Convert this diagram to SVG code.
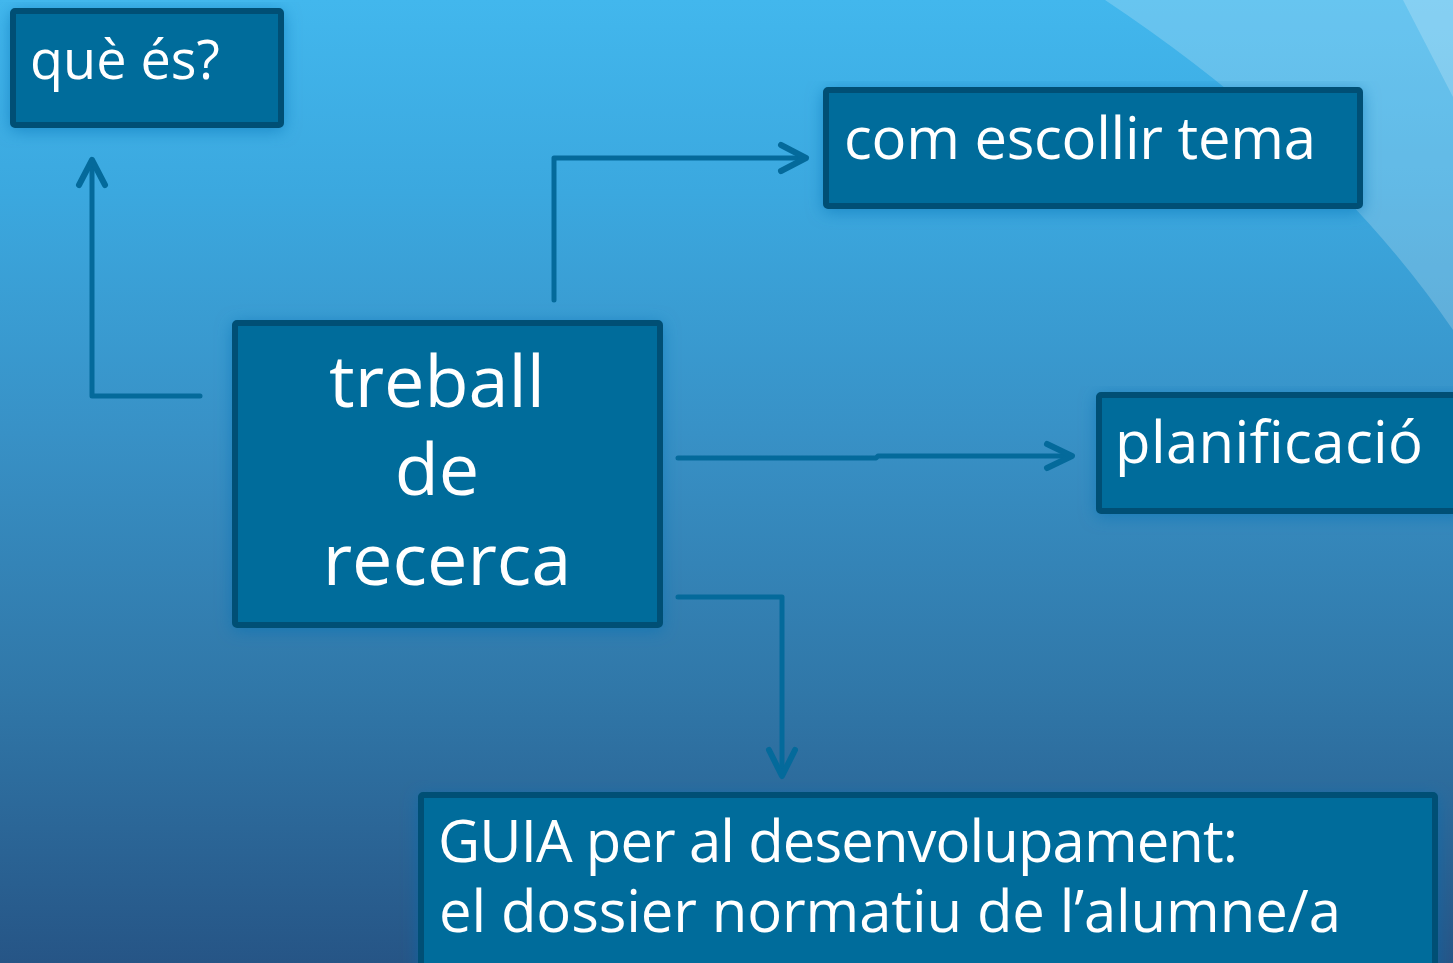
<svg xmlns="http://www.w3.org/2000/svg" width="1453" height="963" viewBox="0 0 1453 963">
  <defs>
    <linearGradient id="bg" x1="0" y1="0" x2="0" y2="1">
      <stop offset="0" stop-color="#42b7ed"/>
      <stop offset="0.2" stop-color="#3ba8df"/>
      <stop offset="0.45" stop-color="#3891c6"/>
      <stop offset="0.72" stop-color="#3077a8"/>
      <stop offset="1" stop-color="#265586"/>
    </linearGradient>
    <filter id="glow" x="-10%" y="-10%" width="120%" height="130%">
      <feGaussianBlur in="SourceAlpha" stdDeviation="8" result="b"/>
      <feOffset in="b" dx="0" dy="3" result="o"/>
      <feFlood flood-color="#0e6fb2" flood-opacity="0.55"/>
      <feComposite in2="o" operator="in" result="s"/>
      <feMerge>
        <feMergeNode in="s"/>
        <feMergeNode in="SourceGraphic"/>
      </feMerge>
    </filter>
    <style>
      .box { fill: #026c9b; stroke: #024f74; stroke-width: 6; filter: url(#glow); }
      .lbl { font-family: "Open Sans", "Noto Sans", "DejaVu Sans", sans-serif; fill: #ffffff; font-size: 58px; }
      .big { font-size: 72px; text-anchor: middle; }
      .conn { fill: none; stroke: #046a9b; stroke-width: 5; stroke-linecap: round; stroke-linejoin: round; }
      .head { stroke-width: 6; }
    </style>
  </defs>

  <rect x="0" y="0" width="1453" height="963" fill="url(#bg)"/>
  <path d="M1105,0 Q1330,150 1453,330 L1453,0 Z" fill="#ffffff" fill-opacity="0.2"/>
  <path d="M1403,0 L1453,97 L1453,0 Z" fill="#ffffff" fill-opacity="0.2"/>

  <g id="connectors">
    <path class="conn" d="M200,396 L92,396 L92,160"/>
    <path class="conn head" d="M79,185 L92,160 L105,185"/>
    <path class="conn" d="M554,300 L554,158 L805,158"/>
    <path class="conn head" d="M781,145 L806,158 L781,171"/>
    <path class="conn" d="M678,458 L876,458 L878,456 L1071,456"/>
    <path class="conn head" d="M1047,444 L1072,456 L1047,468"/>
    <path class="conn" d="M678,597 L782,597 L782,775"/>
    <path class="conn head" d="M769,750 L782,776 L795,750"/>
  </g>

  <g id="node-que-es">
    <rect class="box" x="13" y="11" width="268" height="114" rx="2"/>
    <text class="lbl" x="30" y="79" style="font-size:54px">què és?</text>
  </g>

  <g id="node-com-escollir-tema">
    <rect class="box" x="826" y="90" width="534" height="116" rx="2"/>
    <text class="lbl" x="844" y="159" textLength="472" lengthAdjust="spacing">com escollir tema</text>
  </g>

  <g id="node-planificacio">
    <rect class="box" x="1099" y="395" width="364" height="116" rx="2"/>
    <text class="lbl" x="1115" y="463" textLength="308" lengthAdjust="spacing">planificació</text>
  </g>

  <g id="node-treball-de-recerca">
    <rect class="box" x="235" y="323" width="425" height="302" rx="2"/>
    <text class="lbl big" x="437" y="407">treball</text>
    <text class="lbl big" x="437" y="495">de</text>
    <text class="lbl big" x="447" y="585">recerca</text>
  </g>

  <g id="node-guia">
    <rect class="box" x="421" y="795" width="1014" height="180" rx="2"/>
    <text class="lbl" x="438" y="862" textLength="800" lengthAdjust="spacing">GUIA per al desenvolupament:</text>
    <text class="lbl" x="439" y="932" textLength="902" lengthAdjust="spacing">el dossier normatiu de l’alumne/a</text>
  </g>
</svg>
